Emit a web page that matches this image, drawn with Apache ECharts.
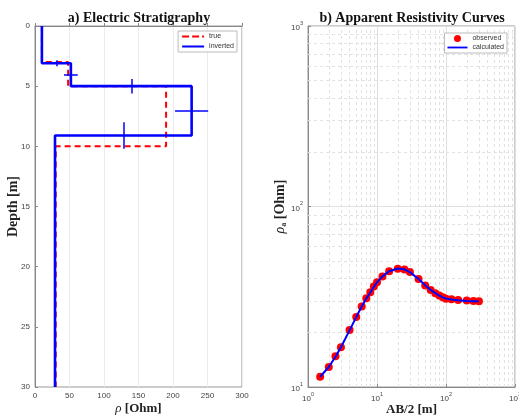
<!DOCTYPE html>
<html>
<head>
<meta charset="utf-8">
<script src="https://cdn.jsdelivr.net/npm/echarts@6/dist/echarts.min.js"></script>
<style>
html, body { margin: 0; padding: 0; background: #fff; }
#main { width: 519px; height: 419px; }
</style>
</head>
<body>
<div id="main"></div>
<script>
// a) layered earth model: resistivity of each layer, depth of each interface
var trueRho = [10, 48, 190, 30];
var trueDepth = [3, 5, 10];
var invRho = [10, 52, 227, 29];
var invDepth = [3.1, 5, 9.1];
// uncertainty of the inverted model
var depthErr = [0.25, 0.6, 1.1];
var rhoErr = [0, 10, 24, 1.5];
var rhoErrDepth = [1.5, 4.05, 7.05, 11.2];
var depthTicks = [0, 5, 10, 15, 20, 25, 30];

// b) sounding curve
var ab2 = [1.5, 2, 2.5, 3, 4, 5, 6, 7, 8, 9, 10, 12, 15, 20, 25, 30, 40, 50, 60, 70, 80, 90, 100, 120, 150, 200, 250, 300];
var obsRho = [11.4, 12.9, 14.8, 16.6, 20.7, 24.4, 27.9, 31.0, 33.5, 36.0, 38.1, 41.0, 43.8, 45.2, 44.8, 43.3, 39.7, 36.5, 34.5, 33.1, 32.1, 31.4, 30.8, 30.6, 30.3, 30.1, 30.0, 29.9];
var calRho = [11.4, 12.9, 14.7, 16.6, 20.6, 24.4, 27.9, 30.9, 33.4, 35.9, 38.0, 41.0, 43.8, 45.3, 44.9, 43.3, 39.7, 36.6, 34.5, 33.1, 32.1, 31.4, 30.9, 30.5, 30.2, 30.0, 29.9, 29.9];

var maxDepth = 30;

function stepPath(rho, depth) {
  var pts = [[rho[0], 0]];
  for (var i = 0; i < depth.length; i++) {
    pts.push([rho[i], depth[i]]);
    pts.push([rho[i + 1], depth[i]]);
  }
  pts.push([rho[rho.length - 1], maxDepth]);
  return pts;
}

// error bar segments
var errSegs = [];
for (var i = 0; i < invDepth.length; i++) {
  var xm = (invRho[i] + invRho[i + 1]) / 2;
  errSegs.push({ coords: [[xm, invDepth[i] - depthErr[i]], [xm, invDepth[i] + depthErr[i]]] });
}
for (var j = 0; j < invRho.length; j++) {
  if (rhoErr[j] > 0) {
    errSegs.push({ coords: [[invRho[j] - rhoErr[j], rhoErrDepth[j]], [invRho[j] + rhoErr[j], rhoErrDepth[j]]] });
  }
}

var obsData = ab2.map(function (v, k) { return [v, obsRho[k]]; });
var calData = ab2.map(function (v, k) { return [v, calRho[k]]; });

// minor log grid lines
var minorX = [], minorY = [];
[1, 10, 100].forEach(function (d) {
  for (var m = 2; m <= 9; m++) minorX.push({ xAxis: m * d });
});
[10, 100].forEach(function (d) {
  for (var m = 2; m <= 9; m++) minorY.push({ yAxis: m * d });
});

var sans = 'Liberation Sans, Arial, sans-serif';
var serif = 'Liberation Serif, Times New Roman, serif';
var tickFont = { fontSize: 8, color: '#444', fontFamily: sans };
var nameFont = { fontSize: 13, fontWeight: 'bold', color: '#222', fontFamily: serif };

function logLabel(v) {
  return '{b|10}{s|' + Math.round(Math.log10(v)) + '}';
}
var logRich = {
  b: { fontSize: 8, color: '#444', fontFamily: sans, verticalAlign: 'bottom', lineHeight: 12 },
  s: { fontSize: 5.5, color: '#444', fontFamily: sans, verticalAlign: 'top', lineHeight: 12 }
};

// legend icons
var dashIcon = 'path://M0,0h7v2h-7z M10,0h7v2h-7z M20,0h2v2h-2z';
var solidIcon = 'path://M0,0h22v2h-22z';

var chart = echarts.init(document.getElementById('main'));
chart.setOption({
  animation: false,
  backgroundColor: '#fff',
  title: [
    { text: 'a) Electric Stratigraphy', left: 134, textAlign: 'center', top: 6,
      textStyle: { fontSize: 14, fontWeight: 'bold', color: '#111', fontFamily: serif } },
    { text: 'b) Apparent Resistivity Curves', left: 407, textAlign: 'center', top: 6,
      textStyle: { fontSize: 14, fontWeight: 'bold', color: '#111', fontFamily: serif } }
  ],
  legend: [
    { data: [{ name: 'true', icon: dashIcon }, { name: 'inverted', icon: solidIcon }],
      orient: 'vertical', right: 282, top: 31,
      itemWidth: 22, itemHeight: 2.5, itemGap: 3, padding: [2, 3, 2, 4],
      backgroundColor: '#fff', borderColor: '#bbb', borderWidth: 1, borderRadius: 0,
      textStyle: { fontSize: 7, color: '#333', fontFamily: sans } },
    { data: [{ name: 'observed', icon: 'circle' }, { name: 'calculated', icon: solidIcon }],
      orient: 'vertical', right: 12, top: 33,
      itemWidth: 20, itemHeight: 7, itemGap: 2, padding: [2, 3, 2, 3],
      backgroundColor: '#fff', borderColor: '#bbb', borderWidth: 1, borderRadius: 0,
      textStyle: { fontSize: 7, color: '#333', fontFamily: sans } }
  ],
  grid: [
    { left: 35, right: 277, top: 26, bottom: 32, outerBoundsMode: 'none', containLabel: false,
      show: true, borderColor: '#999', borderWidth: 1 },
    { left: 308, right: 4, top: 26, bottom: 32, outerBoundsMode: 'none', containLabel: false,
      show: true, borderColor: '#999', borderWidth: 1 }
  ],
  xAxis: [
    { type: 'value', gridIndex: 0, min: 0, max: 300, interval: 50,
      name: '{r|ρ} [Ohm]', nameLocation: 'middle', nameGap: 15, nameMoveOverlap: false,
      nameTextStyle: Object.assign({}, nameFont, { rich: { r: { fontStyle: 'italic', fontWeight: 'normal', fontSize: 13, fontFamily: serif, color: '#222' } } }),
      axisLine: { show: true, lineStyle: { color: '#888' } },
      axisTick: { show: true, inside: true, length: 3, lineStyle: { color: '#888' } },
      axisLabel: Object.assign({ margin: 5 }, tickFont),
      splitLine: { show: true, lineStyle: { color: '#ebebeb' } } },
    { type: 'log', gridIndex: 1, min: 1, max: 1000, logBase: 10, interval: 1,
      name: 'AB/2 [m]', nameLocation: 'middle', nameGap: 16, nameMoveOverlap: false, nameTextStyle: nameFont,
      axisLine: { show: true, lineStyle: { color: '#888' } },
      axisTick: { show: true, inside: true, length: 3, lineStyle: { color: '#888' } },
      axisLabel: { margin: 4, formatter: logLabel, rich: logRich },
      splitLine: { show: true, lineStyle: { color: '#e0e0e0' } } }
  ],
  yAxis: [
    { type: 'value', gridIndex: 0, min: 0, max: 30, interval: 5, inverse: true,
      name: 'Depth [m]', nameLocation: 'middle', nameGap: 15, nameMoveOverlap: false,
      nameTextStyle: Object.assign({}, nameFont, { fontSize: 14 }),
      axisLine: { show: true, lineStyle: { color: '#888' } },
      axisTick: { show: true, inside: true, length: 3, lineStyle: { color: '#888' } },
      axisLabel: Object.assign({ margin: 5, formatter: function (v) { return depthTicks.indexOf(v) >= 0 ? String(v) : ''; } }, tickFont),
      splitLine: { show: false } },
    { type: 'log', gridIndex: 1, min: 10, max: 1000, logBase: 10, interval: 1,
      name: '{r|ρ}{a|a} [Ohm]', nameLocation: 'middle', nameGap: 20, nameMoveOverlap: false,
      nameTextStyle: Object.assign({}, nameFont, { fontSize: 14, rich: {
        r: { fontStyle: 'italic', fontWeight: 'normal', fontSize: 14, fontFamily: serif, color: '#222' },
        a: { fontSize: 8, fontFamily: serif, color: '#222', verticalAlign: 'bottom', lineHeight: 16 } } }),
      axisLine: { show: true, lineStyle: { color: '#888' } },
      axisTick: { show: true, inside: true, length: 3, lineStyle: { color: '#888' } },
      axisLabel: { margin: 5, formatter: logLabel, rich: logRich },
      splitLine: { show: true, lineStyle: { color: '#e0e0e0' } } }
  ],
  series: [
    { name: 'true', type: 'line', xAxisIndex: 0, yAxisIndex: 0, data: stepPath(trueRho, trueDepth),
      showSymbol: false, symbol: 'none', color: '#ff0000',
      lineStyle: { color: '#ff0000', width: 2, type: [6, 4] }, z: 2 },
    { name: 'inverted', type: 'line', xAxisIndex: 0, yAxisIndex: 0, data: stepPath(invRho, invDepth),
      showSymbol: false, symbol: 'none', color: '#0000ff',
      lineStyle: { color: '#0000ff', width: 2.6 }, zlevel: 1, z: 6 },
    { name: 'inverted', type: 'lines', coordinateSystem: 'cartesian2d', xAxisIndex: 0, yAxisIndex: 0,
      data: errSegs, lineStyle: { color: '#0000ff', width: 1.5, opacity: 1 }, zlevel: 1, z: 7, silent: true },
    { name: 'observed', type: 'scatter', xAxisIndex: 1, yAxisIndex: 1, data: obsData,
      symbol: 'circle', symbolSize: 8, itemStyle: { color: '#ff0000', opacity: 1 }, z: 3,
      markLine: { silent: true, symbol: 'none', label: { show: false },
        lineStyle: { color: '#e2e2e2', type: [3, 3], width: 1 },
        data: minorX.concat(minorY), z: 1 } },
    { name: 'calculated', type: 'line', xAxisIndex: 1, yAxisIndex: 1, data: calData,
      showSymbol: false, symbol: 'none', smooth: false, color: '#0000ff',
      lineStyle: { color: '#0000ff', width: 2 }, z: 4 }
  ]
});
</script>
</body>
</html>
